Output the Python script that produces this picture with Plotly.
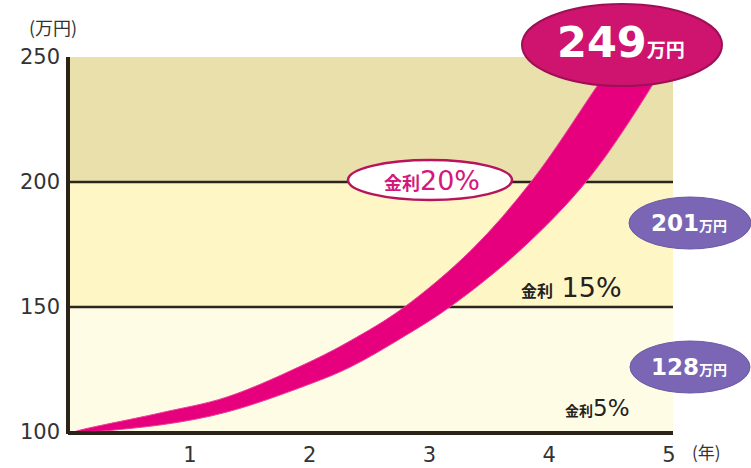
import plotly.graph_objects as go

# ---- data ----
years = [1, 2, 3, 4, 5]
y_ticks = [100, 150, 200, 250]
bands = [(100, 150), (150, 200), (200, 250)]
band_colors = ["#fffce6", "#fff6c6", "#e9e0ab"]

# ribbon edges of the 20% curve (upper-left edge and lower-right edge)
upper_x = [0.04, 0.75, 1.31, 1.98, 2.34, 2.78, 3.35, 3.86, 4.36, 4.56, 4.62]
upper_y = [100.0, 107.6, 114.0, 127.6, 136.5, 149.6, 172.8, 200.8, 235.6, 250.0, 256.0]
lower_x = [0.04, 0.75, 1.31, 1.98, 2.34, 2.78, 3.17, 3.76, 4.32, 4.82, 4.99, 5.05]
lower_y = [100.0, 102.8, 108.0, 118.8, 126.0, 138.0, 150.0, 172.8, 200.8, 235.6, 250.0, 256.0]

final_20 = "249"
final_15 = "201"
final_5 = "128"

W, H = 751, 468
L, R, T, B = 68, 673, 57, 432
X0, X1 = -0.017, 5.033
Y0, Y1 = 100, 250


def pxx(p):  # pixel x -> paper
    return (p - L) / (R - L)


def pyy(p):  # pixel y -> paper
    return (B - p) / (B - T)


fig = go.Figure()

poly_x = upper_x + lower_x[::-1]
poly_y = upper_y + lower_y[::-1]
fig.add_trace(go.Scatter(
    x=poly_x, y=poly_y, mode="lines", fill="toself",
    fillcolor="#e6007e", line=dict(color="#ee3c96", width=1, shape="spline", smoothing=1.0),
    hoverinfo="skip", showlegend=False))

shapes = []
for (a, b), c in zip(bands, band_colors):
    shapes.append(dict(type="rect", xref="x", yref="y", x0=X0, x1=X1, y0=a, y1=b,
                       fillcolor=c, line=dict(width=0), layer="below"))
for v in [150, 200]:
    shapes.append(dict(type="line", xref="x", yref="y", x0=X0, x1=X1, y0=v, y1=v,
                       line=dict(color="#2b261c", width=2.5), layer="below"))
# axis lines
shapes.append(dict(type="line", xref="paper", yref="paper", x0=0, x1=1, y0=pyy(433), y1=pyy(433),
                   line=dict(color="#2b2218", width=4), layer="above"))
shapes.append(dict(type="line", xref="paper", yref="paper", x0=0, x1=0, y0=pyy(434), y1=1,
                   line=dict(color="#2b2218", width=4), layer="above"))


def ellipse(cx, cy, w, h, fill, border, bw=2):
    return dict(type="circle", xref="paper", yref="paper",
                x0=pxx(cx - w / 2), x1=pxx(cx + w / 2),
                y0=pyy(cy + h / 2), y1=pyy(cy - h / 2),
                fillcolor=fill, line=dict(color=border, width=bw), layer="above")


shapes.append(ellipse(622, 45, 200, 82, "#cf1470", "#9e1055", 2))
shapes.append(ellipse(430, 180, 164, 40, "#ffffff", "#b8145e", 2.5))
shapes.append(ellipse(690, 223, 122, 52, "#7a66b5", "#6a58a6", 1))
shapes.append(ellipse(690, 367, 120, 52, "#7a66b5", "#6a58a6", 1))

FONT = "DejaVu Sans, Noto Sans CJK JP"
CJK = "Noto Sans CJK JP"
ann = []


def add_text(cx, cy, text, size=16, color="#333333", family=FONT):
    ann.append(dict(xref="paper", yref="paper", x=pxx(cx), y=pyy(cy), text=text,
                    showarrow=False, xanchor="center", yanchor="middle",
                    font=dict(family=family, size=size, color=color)))


def cj(t, size):
    return f"<span style='font-family:\"Noto Sans CJK JP\";font-size:{size}px'><b>{t}</b></span>"


add_text(53, 27, "(万円)", 18, "#333333", CJK)
add_text(706, 452, "(年)", 17, "#333333", CJK)
add_text(621, 42, f"<b>{final_20}</b>" + cj("万円", 19), 43, "#ffffff")
add_text(432, 180, cj("金利", 18) + "20%", 27, "#d4187c")
add_text(689, 223, f"<b>{final_15}</b>" + cj("万円", 14), 23, "#ffffff")
add_text(689, 367, f"<b>{final_5}</b>" + cj("万円", 14), 23, "#ffffff")
add_text(571, 287, cj("金利", 16) + " 15%", 27, "#222222")
add_text(597, 408, cj("金利", 14) + "5%", 23, "#222222")

fig.update_layout(
    width=W, height=H,
    margin=dict(l=L, r=W - R, t=T, b=H - B, pad=0, autoexpand=False),
    paper_bgcolor="#ffffff", plot_bgcolor="#ffffff",
    shapes=shapes, annotations=ann, showlegend=False,
    xaxis=dict(range=[X0, X1], tickvals=years, ticktext=[str(v) for v in years],
               showgrid=False, zeroline=False, showline=False, ticks="", automargin=False,
               ticklabelstandoff=8, tickfont=dict(family="DejaVu Sans", size=21, color="#333333")),
    yaxis=dict(range=[Y0, Y1], tickvals=y_ticks, ticktext=[str(v) for v in y_ticks],
               showgrid=False, zeroline=False, showline=False, ticks="", automargin=False,
               ticklabelstandoff=7, tickfont=dict(family="DejaVu Sans", size=21, color="#333333")),
)

fig.write_html("out.html", config={"displayModeBar": False},
               post_script="document.body.style.margin='0';document.body.style.padding='0';")
